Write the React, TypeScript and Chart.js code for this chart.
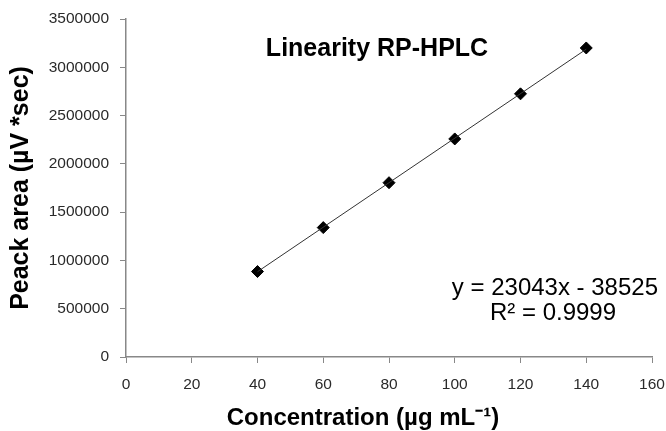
import React, { useEffect, useRef } from "react";
import { Chart, registerables } from "chart.js";

Chart.register(...registerables);

const concentrations = [40, 60, 80, 100, 120, 140];
const peakAreas = [885000, 1340000, 1805000, 2258000, 2725000, 3200000];
const trendX = [40, 140];
const trendY = [883195, 3187495];
const xTicks = [0, 20, 40, 60, 80, 100, 120, 140, 160];
const yTicks = [0, 500000, 1000000, 1500000, 2000000, 2500000, 3000000, 3500000];

const chartTitle = "Linearity RP-HPLC";
const xTitle = "Concentration (µg mL⁻¹)";
const yTitle = "Peack area (µV *sec)";
const equation = "y = 23043x - 38525";
const rSquared = "R² = 0.9999";

const textPlugin = {
  id: "texts",
  afterDraw(chart: any) {
    const ctx = chart.ctx;
    ctx.save();
    ctx.fillStyle = "#000";
    ctx.textBaseline = "middle";
    ctx.font = "bold 25px 'Liberation Sans', Arial, sans-serif";
    ctx.textAlign = "center";
    ctx.fillText(chartTitle, 377, 49);

    ctx.font = "24px 'Liberation Sans', Arial, sans-serif";
    ctx.textAlign = "right";
    ctx.fillText(equation, 658, 288);
    ctx.textAlign = "center";
    ctx.fillText(rSquared, 553, 313);

    ctx.font = "bold 24px 'Liberation Sans', Arial, sans-serif";
    ctx.textAlign = "center";
    ctx.fillText(xTitle, 363, 418);

    ctx.translate(21, 188);
    ctx.rotate(-Math.PI / 2);
    ctx.font = "bold 25px 'Liberation Sans', Arial, sans-serif";
    ctx.fillText(yTitle, 0, 0);
    ctx.restore();
  },
};

export default function App() {
  const ref = useRef<HTMLCanvasElement | null>(null);
  useEffect(() => {
    if (!ref.current) return;
    const tickFont = { family: "'Liberation Sans', Arial, sans-serif", size: 15.5 };
    const chart = new Chart(ref.current, {
      type: "scatter",
      data: {
        datasets: [
          {
            label: "trend",
            data: trendX.map((x, i) => ({ x, y: trendY[i] })),
            showLine: true,
            borderColor: "#333",
            borderWidth: 1,
            pointRadius: 0,
          },
          {
            label: "data",
            data: concentrations.map((x, i) => ({ x, y: peakAreas[i] })),
            pointStyle: "rectRot",
            pointRadius: 6,
            backgroundColor: "#000",
            borderColor: "#000",
            borderWidth: 1,
          },
        ],
      },
      options: {
        responsive: false,
        animation: false,
        layout: { padding: { top: 19, right: 14, bottom: 0, left: 0 } },
        plugins: { legend: { display: false }, tooltip: { enabled: false }, title: { display: false } },
        scales: {
          x: {
            type: "linear",
            min: 0,
            max: 160,
            afterBuildTicks: (s: any) => { s.ticks = xTicks.map((v) => ({ value: v })); },
            afterFit: (s: any) => { s.height = 74; s.paddingLeft = 0; s.paddingRight = 0; },
            ticks: { font: tickFont, color: "#2a2a2a", padding: 12, maxRotation: 0 },
            grid: { drawOnChartArea: false, drawTicks: true, tickLength: 6, color: "#888" },
            border: { color: "#888", width: 1.5 },
          },
          y: {
            type: "linear",
            min: 0,
            max: 3500000,
            afterBuildTicks: (s: any) => { s.ticks = yTicks.map((v) => ({ value: v })); },
            afterFit: (s: any) => { s.width = 126; s.paddingTop = 0; s.paddingBottom = 0; },
            ticks: { font: tickFont, color: "#2a2a2a", padding: 11, callback: (v: any) => String(v) },
            grid: { drawOnChartArea: false, drawTicks: true, tickLength: 6, color: "#888" },
            border: { color: "#888", width: 1.5 },
          },
        },
      },
      plugins: [textPlugin],
    } as any);
    return () => chart.destroy();
  }, []);
  return (
    <div style={{ position: "absolute", left: 0, top: 0, width: 666, height: 431, background: "#fff" }}>
      <canvas ref={ref} width={666} height={431} style={{ width: 666, height: 431 }} />
    </div>
  );
}
